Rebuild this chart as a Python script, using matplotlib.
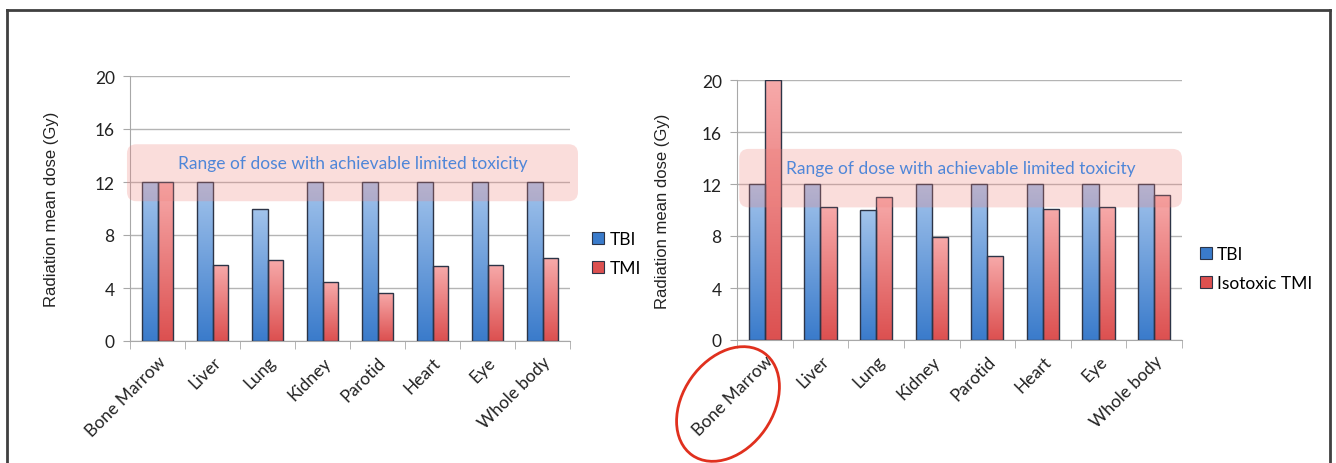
import numpy as np
import matplotlib
matplotlib.use('Agg')
import matplotlib.pyplot as plt
from matplotlib.patches import Rectangle, FancyBboxPatch, Ellipse
from matplotlib.lines import Line2D
from matplotlib.colors import LinearSegmentedColormap
from matplotlib.transforms import IdentityTransform, ScaledTranslation

# data
organs = ['Bone Marrow', 'Liver', 'Lung', 'Kidney', 'Parotid', 'Heart', 'Eye', 'Whole body']
tbi_left = [12, 12, 10, 12, 12, 12, 12, 12]
tmi_left = [12, 5.75, 6.15, 4.45, 3.65, 5.65, 5.75, 6.25]
tbi_right = [12, 12, 10, 12, 12, 12, 12, 12]
tmi_right = [20, 10.25, 11.0, 7.95, 6.5, 10.1, 10.25, 11.15]
band_left = (10.55, 14.85)
band_right = (10.2, 14.7)
band_text = 'Range of dose with achievable limited toxicity'
yticks = [0, 4, 8, 12, 16, 20]

plt.rcParams['font.family'] = ['Lato', 'DejaVu Sans']

BLUE = ('#3a7bcb', '#a3c4ec')
RED = ('#dc5050', '#f7aaaa')
EDGE = '#2c3447'


def grad_bars(ax, bars, colors):
    cmap = LinearSegmentedColormap.from_list('g', list(colors))
    grad = np.linspace(0, 1, 256).reshape(-1, 1)
    for b in bars:
        x0, w, h = b.get_x(), b.get_width(), b.get_height()
        im = ax.imshow(grad, cmap=cmap, extent=[x0, x0 + w, 0, h], origin='lower',
                       aspect='auto', zorder=2, interpolation='bilinear')
        im.set_clip_path(b)


def panel(fig, ax, tbi, tmi, band, labels, leg_anchor, ext, ylpad):
    x = np.arange(len(organs))
    w = 0.29
    b1 = ax.bar(x - w / 2, tbi, w, facecolor='none', edgecolor=EDGE, lw=1, zorder=3)
    b2 = ax.bar(x + w / 2, tmi, w, facecolor='none', edgecolor=EDGE, lw=1, zorder=3)
    grad_bars(ax, b1, BLUE)
    grad_bars(ax, b2, RED)
    ax.set_xlim(-0.5, 7.5)
    ax.set_ylim(0, 20)

    # shaded dose band
    x0, x1 = ext
    aspect = (20 / ax.bbox.height) / (8 / ax.bbox.width)
    box = FancyBboxPatch((x0, band[0]), x1 - x0, band[1] - band[0],
                         boxstyle='round,pad=0,rounding_size=0.17', mutation_aspect=aspect,
                         facecolor='#f0827d', alpha=0.27, edgecolor='none', zorder=4, clip_on=False)
    ax.add_patch(box)
    ax.text((x0 + x1) / 2, band[1] - 1.45, band_text, ha='center', va='center',
            color='#4f86d8', fontsize=12.5, zorder=5)

    ax.set_yticks(yticks)
    ax.set_yticklabels([str(t) for t in yticks], fontsize=12.5, color='#222222')
    ax.set_xticks(x)
    ax.set_xticklabels(organs, rotation=45, ha='right', va='top', rotation_mode='anchor',
                       fontsize=12.5, color='#222222')
    shift = ScaledTranslation(-6 / 72, -4 / 72, fig.dpi_scale_trans)
    for lab in ax.get_xticklabels():
        lab.set_transform(lab.get_transform() + shift)
    ax.set_xticks(np.arange(-0.5, 8, 1), minor=True)
    ax.tick_params(axis='x', which='major', length=0, pad=9)
    ax.tick_params(axis='x', which='minor', length=6, color='#a8a8a8')
    ax.tick_params(axis='y', length=5, color='#a8a8a8', pad=6)
    ax.grid(axis='y', color='#b4b4b4', lw=1)
    ax.set_axisbelow(True)
    for s in ['top', 'right']:
        ax.spines[s].set_visible(False)
    for s in ['left', 'bottom']:
        ax.spines[s].set_color('#a8a8a8')
    ax.set_ylabel('Radiation mean dose (Gy)', family=['Liberation Sans', 'DejaVu Sans'],
                  fontsize=12, color='#222222', labelpad=ylpad)

    handles = [Rectangle((0, 0), 1, 1, facecolor=BLUE[0], edgecolor=EDGE, lw=0.8),
               Rectangle((0, 0), 1, 1, facecolor=RED[0], edgecolor=EDGE, lw=0.8)]
    ax.legend(handles, labels, loc='center left', bbox_to_anchor=leg_anchor, frameon=False,
              handlelength=0.7, handleheight=0.7, handletextpad=0.3, labelspacing=0.75,
              borderpad=0, borderaxespad=0, fontsize=12.5)


fig = plt.figure(figsize=(13.36, 4.64), dpi=100)
ax1 = fig.add_axes([130 / 1336, 122 / 464, 440 / 1336, 265 / 464])
ax2 = fig.add_axes([737 / 1336, 123 / 464, 445 / 1336, 260 / 464])

panel(fig, ax1, tbi_left, tmi_left, band_left, ['TBI', 'TMI'], (1.05, 0.33), (-0.555, 7.645), 26)
panel(fig, ax2, tbi_right, tmi_right, band_right, ['TBI', 'Isotoxic TMI'], (1.04, 0.275), (-0.46, 7.5), 23)

# outer frame of the figure panel
for xs, ys in [([7, 7], [464, 11]), ([7, 1330], [11, 11]), ([1330, 1330], [11, 464])]:
    fig.add_artist(Line2D([v / 1336 for v in xs], [1 - v / 464 for v in ys],
                          color='#404040', lw=2, transform=fig.transFigure))

# red circle round the Bone Marrow label
e = Ellipse((728, 464 - 405), 125, 90, angle=55, transform=IdentityTransform(),
            fill=False, edgecolor='#e0301e', lw=2)
fig.patches.append(e)

fig.savefig('out.png', dpi=100)
